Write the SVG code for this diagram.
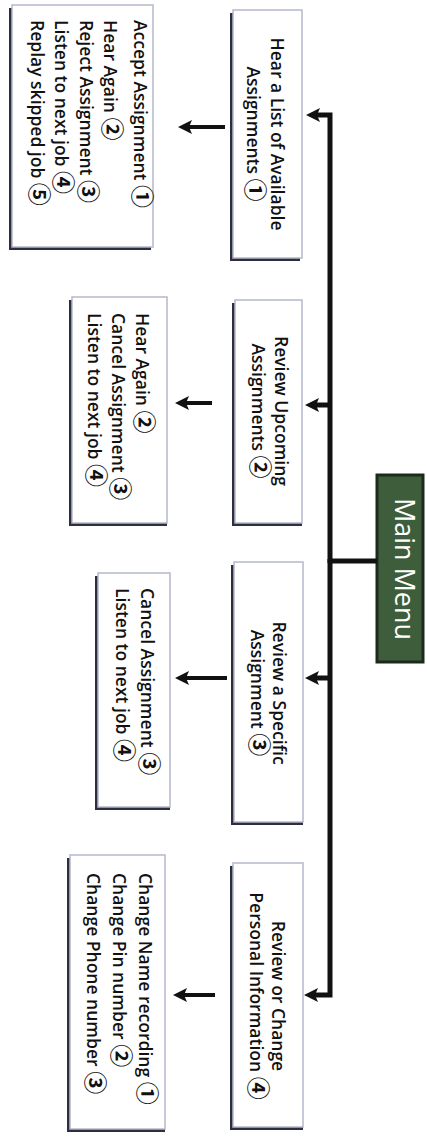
<svg xmlns="http://www.w3.org/2000/svg" width="427" height="1140" viewBox="0 0 427 1140">
<style>
.bg{fill:#ffffff}
.shadow{fill:#2e2e3e}
.box{fill:#ffffff;stroke:#b4b8cc;stroke-width:1.5}
.t{font-family:"Open Sans","Noto Sans CJK JP",sans-serif;font-size:17.5px;font-weight:600;fill:#111111}
.c{font-family:"Noto Sans CJK JP",sans-serif;font-size:23px;font-weight:700}
.mm{font-family:"Open Sans",sans-serif;font-size:27px;font-weight:500;fill:#ffffff}
.trunk{fill:none;stroke:#111111;stroke-width:5}
.sub{fill:none;stroke:#111111;stroke-width:4}
</style>
<defs>
<marker id="ah" viewBox="0 0 14 14" refX="4" refY="7" markerWidth="14" markerHeight="14" markerUnits="userSpaceOnUse" orient="auto">
<path d="M0,0 L14,7 L0,14 L3,7 z" fill="#111111"/>
</marker>
</defs>
<rect class="bg" x="0" y="0" width="427" height="1140"/>

<g id="main-menu">
<rect x="377" y="475" width="46" height="187" fill="#3e5d3b" stroke="#1c2a1c" stroke-width="3"/>
<text class="mm" transform="translate(395,569) rotate(90)" text-anchor="middle">Main Menu</text>
</g>

<g id="node-hear-list">
<rect class="shadow" x="230" y="13" width="70" height="248"/>
<rect class="box" x="233" y="10" width="69" height="248"/>
<text class="t" transform="translate(271,134) rotate(90)" text-anchor="middle">Hear a List of Available</text>
<text class="t" transform="translate(247,134) rotate(90)" text-anchor="middle">Assignments <tspan class="c">①</tspan></text>
</g>

<g id="node-hear-list-options">
<rect class="shadow" x="9" y="8" width="142" height="242"/>
<rect class="box" x="12" y="5" width="141" height="242"/>
<text class="t" transform="translate(134,20) rotate(90)">Accept Assignment <tspan class="c">①</tspan></text>
<text class="t" transform="translate(104,20) rotate(90)">Hear Again <tspan class="c">②</tspan></text>
<text class="t" transform="translate(80,20) rotate(90)">Reject Assignment <tspan class="c">③</tspan></text>
<text class="t" transform="translate(55,20) rotate(90)">Listen to next job <tspan class="c">④</tspan></text>
<text class="t" transform="translate(31,20) rotate(90)">Replay skipped job <tspan class="c">⑤</tspan></text>
</g>

<g id="node-review-upcoming">
<rect class="shadow" x="232" y="303" width="70" height="223"/>
<rect class="box" x="235" y="300" width="67" height="223"/>
<text class="t" transform="translate(275,411) rotate(90)" text-anchor="middle">Review Upcoming</text>
<text class="t" transform="translate(252,411) rotate(90)" text-anchor="middle">Assignments <tspan class="c">②</tspan></text>
</g>

<g id="node-review-upcoming-options">
<rect class="shadow" x="69" y="300" width="98" height="226"/>
<rect class="box" x="72" y="297" width="95" height="226"/>
<text class="t" transform="translate(136,313) rotate(90)">Hear Again <tspan class="c">②</tspan></text>
<text class="t" transform="translate(112,313) rotate(90)">Cancel Assignment <tspan class="c">③</tspan></text>
<text class="t" transform="translate(88,313) rotate(90)">Listen to next job <tspan class="c">④</tspan></text>
</g>

<g id="node-review-specific">
<rect class="shadow" x="231" y="565" width="72" height="260"/>
<rect class="box" x="234" y="562" width="69" height="260"/>
<text class="t" transform="translate(273,693) rotate(90)" text-anchor="middle">Review a Specific</text>
<text class="t" transform="translate(251,693) rotate(90)" text-anchor="middle">Assignment <tspan class="c">③</tspan></text>
</g>

<g id="node-review-specific-options">
<rect class="shadow" x="95" y="576" width="75" height="234"/>
<rect class="box" x="98" y="573" width="72" height="234"/>
<text class="t" transform="translate(141,588) rotate(90)">Cancel Assignment <tspan class="c">③</tspan></text>
<text class="t" transform="translate(116,588) rotate(90)">Listen to next job <tspan class="c">④</tspan></text>
</g>

<g id="node-personal-info">
<rect class="shadow" x="230" y="866" width="73" height="264"/>
<rect class="box" x="233" y="863" width="70" height="264"/>
<text class="t" transform="translate(272,996) rotate(90)" text-anchor="middle">Review or Change</text>
<text class="t" transform="translate(250,996) rotate(90)" text-anchor="middle">Personal Information <tspan class="c">④</tspan></text>
</g>

<g id="node-personal-info-options">
<rect class="shadow" x="67" y="858" width="98" height="274"/>
<rect class="box" x="70" y="855" width="95" height="274"/>
<text class="t" transform="translate(139,873) rotate(90)">Change Name recording <tspan class="c">①</tspan></text>
<text class="t" transform="translate(113,873) rotate(90)">Change Pin number <tspan class="c">②</tspan></text>
<text class="t" transform="translate(87,873) rotate(90)">Change Phone number <tspan class="c">③</tspan></text>
</g>

<g id="connectors">
<path class="trunk" d="M377,561 H330"/>
<path class="trunk" d="M330,563 V115 H316" marker-end="url(#ah)"/>
<path class="trunk" d="M330,559 V995 H314" marker-end="url(#ah)"/>
<path class="trunk" d="M330,405 H315" marker-end="url(#ah)"/>
<path class="trunk" d="M330,678 H315" marker-end="url(#ah)"/>
<path class="sub" d="M225,127 H188" marker-end="url(#ah)"/>
<path class="sub" d="M212,403 H185" marker-end="url(#ah)"/>
<path class="sub" d="M227,678 H185" marker-end="url(#ah)"/>
<path class="sub" d="M215,995 H183" marker-end="url(#ah)"/>
</g>
</svg>
